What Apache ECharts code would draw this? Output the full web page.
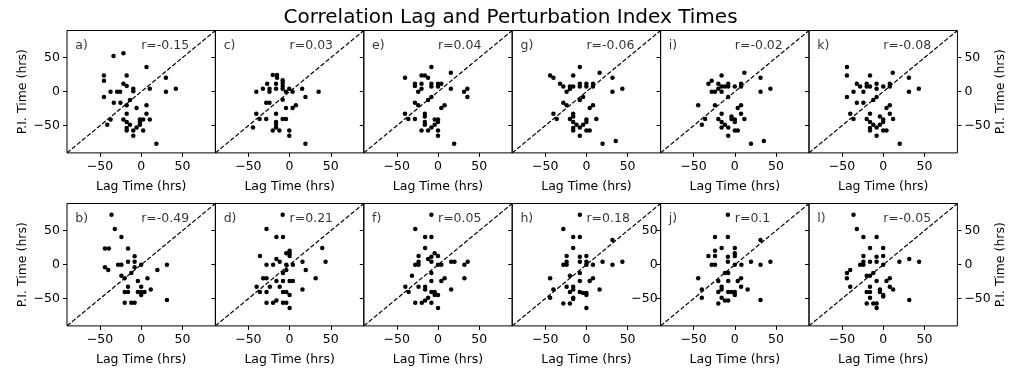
<!DOCTYPE html>
<html>
<head>
<meta charset="utf-8">
<script src="https://cdn.jsdelivr.net/npm/echarts@6/dist/echarts.min.js"></script>
<style>
html,body{margin:0;padding:0;background:#fff;}
#chart{width:1021px;height:375px;}
</style>
</head>
<body>
<div id="chart"></div>
<script>
// ---- data ----
const chartTitle = 'Correlation Lag and Perturbation Index Times';
const xAxisLabel = 'Lag Time (hrs)';
const yAxisLabel = 'P.I. Time (hrs)';
const axisMin = -90, axisMax = 90;
const tickValues = [-50, 0, 50];
const panelLetters = ['a','c','e','g','i','k','b','d','f','h','j','l'];
const rValues = ['-0.15','0.03','0.04','-0.06','-0.02','-0.08','-0.49','0.21','0.05','0.18','0.1','-0.05'];

const pointsA = [[-33.6,52.5],[-21.6,56.4],[6.4,36.3],[-45.2,24],[-45.2,16.2],[-17.6,24],[30,20.6],[-21.6,11.8],[-17.6,8.3],[-9.6,4.4],[-9.6,0.5],[10.4,4.4],[42,4.4],[30,0],[-37.2,0],[-29.2,0],[-25.6,0],[-45.2,-7.8],[-13.6,-12.3],[-33.2,-16.2],[-25.2,-16.2],[-17.6,-20.1],[-5.6,-24],[6.4,-20.1],[-17.6,-32.4],[6.4,-32.4],[-37.2,-40.7],[-21.6,-40.7],[10.4,-40.7],[-17.6,-44.6],[-41.2,-48.5],[-13.6,-48.5],[-1.6,-40.7],[-1.6,-44.6],[2.4,-40.7],[-1.6,-48.5],[-5.6,-52.5],[-17.6,-53.4],[-17.6,-56.9],[-9.6,-56.9],[2.4,-56.9],[-9.6,-64.7],[18.4,-76.5]];
const pointsC = [[-20.4,24.5],[-15.2,24.5],[-15.2,20.6],[-8.4,16.7],[-8.4,12.7],[-8.4,8.3],[-27.2,11.8],[-16.4,11.8],[-32.4,4.4],[-24.4,4.4],[-24.4,0],[-16.4,4.4],[-8.4,4.4],[-0.4,4.4],[15.2,4.4],[-40.4,0],[-4.4,0],[3.6,0],[35.2,0],[19.2,-7.8],[-8.4,-11.8],[-28.4,-16.2],[-24.4,-16.2],[7.6,-20.1],[-4.4,-24],[3.6,-24],[-40.4,-32.4],[-16.4,-32.4],[-36.4,-40.2],[-28.4,-40.2],[-8.4,-40.2],[-4.4,-40.2],[-16.4,-44.6],[-16.4,-48.5],[-44.4,-52.5],[-16.4,-52.5],[-20.4,-56.9],[-12.4,-56.9],[-0.4,-56.9],[-0.4,-64.7],[19.2,-76.5]];
const pointsE = [[-8,36.3],[15.6,27.9],[-40,20.6],[-20,24],[-16,24],[-12,20.6],[-28,11.8],[-28,8.3],[-20,11.8],[-8,11.8],[-8,7.8],[0,11.8],[4,11.8],[0,7.8],[15.6,4.4],[-24,0],[-20,4.4],[35.6,4.4],[31.6,0],[35.6,-7.8],[-8,-7.8],[-12,-12.3],[-28,-16.2],[-24,-20.1],[8,-20.1],[4,-24],[-40,-32.4],[-16,-32.4],[-16,-36.3],[-36,-40.2],[-28,-40.2],[-4,-40.7],[0,-40.7],[0,-44.6],[-16,-44.6],[-16,-48.5],[-4,-48.5],[-8,-52.5],[-20,-56.9],[-12,-56.9],[0,-56.9],[0,-64.7],[19.6,-76.5]];
const pointsG = [[-8,36.3],[16,27.9],[-44,24],[-40,20.6],[-16,24],[31.6,20.6],[-32,11.8],[-28,7.8],[-20,7.8],[-16,7.8],[-8,11.8],[-8,7.8],[0,11.8],[8,11.8],[8,7.8],[0,7.8],[-24,0],[-20,3.9],[31.6,0],[43.6,4.4],[-4,-7.8],[-8,-12.3],[-28,-16.2],[-24,-20.1],[8,-20.1],[4,-24],[-40,-32.4],[-16,-32.4],[-16,-36.3],[-36,-40.2],[-20,-40.2],[12,-40.2],[-16,-44.6],[0,-40.7],[0,-44.6],[-4,-48.5],[-12,-48.5],[-8,-52.5],[-16,-53.4],[-16,-56.9],[0,-56.9],[4,-56.9],[-8,-64.7],[19.6,-76.5],[35.6,-72.5]];
const pointsI = [[11.6,27.9],[-16,24],[31.2,20.6],[-28,16.2],[-32,11.8],[-20,11.8],[-16,7.8],[-12,7.8],[-8,11.8],[-8,7.8],[0,7.8],[7.6,11.8],[7.6,7.8],[-28,0],[-24,0],[-16,0],[-20,4.4],[31.2,0],[43.2,4.4],[-8,-7.8],[-44.4,-20.1],[-24,-20.1],[7.6,-20.1],[3.6,-24],[-16,-32.4],[7.6,-32.4],[-36,-40.2],[-20,-40.2],[11.6,-40.2],[-4,-36.3],[-4,-40.2],[0,-40.7],[0,-44.6],[-16,-44.6],[-40,-48.5],[-12,-48.5],[-16,-52.5],[-8,-52.5],[0,-56.9],[3.6,-56.9],[-8,-64.7],[19.6,-76.5],[35.2,-72.5]];
const pointsK = [[-44,36.3],[-44,24],[-16,24],[11.6,27.9],[31.2,20.6],[-32,11.8],[-28,7.8],[-20,7.8],[-16,7.8],[-20,11.8],[-8,11.8],[-8,4.4],[0,7.8],[8,11.8],[8,7.8],[-36,0],[-24,0],[31.2,0],[43.2,4.4],[-44,-7.8],[-8,-7.8],[-12,-12.3],[-32,-16.2],[-24,-16.2],[8,-20.1],[4,-24],[-40,-32.4],[-16,-32.4],[8,-32.4],[-36,-40.2],[-20,-40.2],[12,-40.2],[-4,-36.3],[0,-40.7],[0,-44.6],[-16,-44.6],[-12,-48.5],[-4,-48.5],[-8,-52.5],[-16,-53.4],[-16,-56.9],[0,-56.9],[4,-56.9],[-8,-64.7],[20,-76.5]];
const pointsB = [[-36,73.5],[-32,52.5],[-24,40.7],[-44,24],[-39.2,24],[-16,24],[-8,12.3],[-16,4.4],[-8,4.4],[-28,0],[-24,0],[-8,-3.9],[0,0],[-44,-3.9],[-40,-7.8],[19.6,-7.8],[31.2,0],[-12,-12.3],[-24,-16.2],[-20,-20.1],[7.6,-20.1],[-4,-24],[-16,-32.4],[0,-32.4],[11.6,-36.3],[-20,-40.2],[-16,-40.2],[-4,-40.2],[0,-40.2],[4,-40.2],[0,-44.6],[31.2,-52],[-20,-55.9],[-12,-55.9],[-8,-55.9]];
const pointsD = [[-8.4,73.5],[-28,52.5],[-16,40.7],[-8,40.7],[-4,16.7],[0,20.6],[0,16.7],[0,12.7],[-36,12.7],[-16,8.3],[-12,4.4],[-28,0],[-20,0],[-4,0],[4,0],[15.6,4.4],[39.6,24.5],[43.6,4.4],[19.6,-7.8],[-4,-7.8],[-8,-12.3],[-32,-20.1],[-28,-20.1],[-16,-24],[-8,-24],[0,-24],[4,-24],[31.6,-20.1],[-40,-32.4],[-24,-32.4],[-12,-32.4],[-36,-40.2],[-28,-40.2],[-8,-40.2],[-4,-40.2],[0,-44.6],[15.6,-36.3],[-16,-52.5],[-28,-55.9],[-20,-55.9],[-8,-55.9],[-4,-55.9],[0,-63.7]];
const pointsF = [[-8,73.5],[-27.6,52.5],[-15.6,40.7],[-8,40.7],[-15.6,24.5],[-4,16.7],[-8,11.8],[0,12.7],[-12,8.3],[-23.6,12.7],[-23.6,4.4],[-27.6,0],[-23.6,0],[-8,4.4],[0,0],[4,0],[16,4.4],[20,4.4],[36,4.4],[32,0],[-31.6,-16.2],[-8,-12.3],[32,-20.1],[8,-20.1],[4,-24],[-8,-24],[-39.6,-32.4],[-23.6,-32.4],[-15.6,-32.4],[-15.6,-36.3],[-35.6,-40.2],[16,-36.3],[-8,-40.2],[-4,-40.2],[-4,-44.6],[0,-44.6],[-12,-48.5],[-15.6,-52.5],[-19.6,-55.9],[-27.6,-55.9],[-8,-55.9],[0,-63.7]];
const pointsH = [[-8,73.5],[-28,52.5],[-16,40.7],[-8,40.7],[-16,24.5],[31.6,36.3],[-24,12.7],[-24,4.4],[-28,0],[-24,0],[-8,11.8],[-8,4.4],[0,12.7],[0,4.4],[0,0],[8,0],[19.6,4.4],[31.6,0],[43.6,4.4],[-8,-12.3],[-44,-20.1],[-20,-16.2],[-8,-24],[4,-24],[8,-20.1],[-40,-36.3],[-24,-32.4],[-16,-32.4],[-16,-36.3],[16,-36.3],[-20,-40.2],[-8,-40.2],[-4,-41.7],[0,-41.7],[0,-44.6],[-16,-48.5],[-44,-48.5],[-28,-56.9],[-20,-56.9],[-16,-50.5],[0,-63.7]];
const pointsJ = [[-8.4,73.5],[-24,40.7],[-8.4,40.7],[31.2,36.3],[-16,24.5],[0,24.5],[-24,20.6],[0,16.7],[0,12.7],[-32,12.7],[-24,12.7],[-8.4,11.8],[-8.4,4.4],[-28,0],[-24,0],[0,0],[8,0],[19.6,4.4],[31.2,0],[43.2,4.4],[-12,-12.3],[-8,-12.3],[-44.4,-20.1],[-20,-24],[-8,-24],[3.6,-24],[7.6,-20.1],[-40,-36.3],[-16,-32.4],[-16,-36.3],[7.6,-32.4],[15.6,-36.3],[-20,-40.2],[-8,-40.2],[-4,-40.2],[0,-40.2],[0,-44.6],[-16,-48.5],[-40,-48.5],[-12,-52.5],[-8,-52.5],[-20,-56.9],[31.2,-52]];
const pointsL = [[-36,73.5],[-32,52.5],[-24,40.7],[-8,40.7],[-16,24.5],[0,24.5],[-24,12.7],[-24,4.4],[-8,11.8],[0,12.7],[-16,4.4],[-8,4.4],[-28,0],[-24,0],[0,0],[19.6,4.4],[31.6,8.3],[43.6,4.4],[-40,-7.8],[-44,-12.3],[-44,-20.1],[-12,-12.3],[-20,-16.2],[-16,-16.2],[-8,-24],[4,-24],[8,-20.1],[-40,-32.4],[-16,-32.4],[8,-32.4],[12,-36.3],[-20,-40.2],[-16,-40.2],[-4,-36.3],[-4,-40.2],[0,-44.6],[0,-46.6],[-16,-48.5],[-20,-56.9],[-12,-56.9],[-8,-56.9],[-8,-63.7],[31.6,-52]];

const panelPoints = [pointsA,pointsC,pointsE,pointsG,pointsI,pointsK,pointsB,pointsD,pointsF,pointsH,pointsJ,pointsL];
const diagonal = [[axisMin, axisMin],[axisMax, axisMax]];
const letterPos = [-80, 67];
const rPos = [0, 67];

// ---- layout / style ----
const FONT = 'DejaVu Sans';
const FS = 12.5;
const L0 = 67, W = 148.4, H = 122.4, tops = [30.5, 203.5];
const fmt = v => String(v).replace('-', '\u2212');
const tick = {show: true, length: 4, inside: false, customValues: tickValues, lineStyle: {color: '#000', width: 1}};
const nameStyle = {fontFamily: FONT, fontSize: FS, color: '#000'};

const grids = [], xAxes = [], yAxes = [], series = [];
for (let i = 0; i < 12; i++) {
  const row = i < 6 ? 0 : 1, col = i % 6;
  grids.push({left: L0 + col * W, top: tops[row], width: W, height: H,
    show: true, borderColor: '#000', borderWidth: 1, backgroundColor: 'transparent', containLabel: false});
  xAxes.push({type: 'value', gridIndex: i, min: axisMin, max: axisMax, position: 'bottom',
    name: xAxisLabel, nameLocation: 'middle', nameGap: 27, nameTextStyle: nameStyle,
    axisLine: {show: false, onZero: false}, splitLine: {show: false}, axisTick: tick,
    axisLabel: {show: true, margin: 7, customValues: tickValues, formatter: fmt, fontFamily: FONT, fontSize: FS, color: '#000'}});
  const showLeftLabels = (col === 0) || (i === 10);
  yAxes.push({type: 'value', gridIndex: i, min: axisMin, max: axisMax, position: 'left',
    name: col === 0 ? yAxisLabel : '', nameLocation: 'middle', nameGap: 38, nameRotate: 90, nameTextStyle: nameStyle,
    axisLine: {show: false, onZero: false}, splitLine: {show: false}, axisTick: tick,
    axisLabel: {show: showLeftLabels, margin: i === 10 ? 3 : 7, customValues: tickValues, formatter: fmt, fontFamily: FONT, fontSize: FS, color: '#000'}});
}
// right-side axes for last column
[5, 11].forEach(gi => {
  yAxes.push({type: 'value', gridIndex: gi, min: axisMin, max: axisMax, position: 'right',
    name: yAxisLabel, nameLocation: 'middle', nameGap: 37, nameRotate: 90, nameTextStyle: nameStyle,
    axisLine: {show: false, onZero: false}, splitLine: {show: false}, axisTick: tick,
    axisLabel: {show: true, margin: 7, customValues: tickValues, formatter: fmt, fontFamily: FONT, fontSize: FS, color: '#000'}});
});

for (let i = 0; i < 12; i++) {
  series.push({type: 'line', xAxisIndex: i, yAxisIndex: i, data: diagonal, symbol: 'none', silent: true,
    lineStyle: {color: '#000', width: 1.2, type: [4.5, 2]}, z: 2});
  series.push({type: 'scatter', xAxisIndex: i, yAxisIndex: i, data: panelPoints[i], symbol: 'circle', symbolSize: 4.5,
    itemStyle: {color: '#000', opacity: 1}, silent: true, z: 3});
  series.push({type: 'scatter', xAxisIndex: i, yAxisIndex: i, symbolSize: 0, silent: true, z: 4,
    data: [{value: letterPos, label: {formatter: panelLetters[i] + ')'}}, {value: rPos, label: {formatter: 'r=' + rValues[i]}}],
    label: {show: true, position: [0, 0], align: 'left', verticalAlign: 'middle', fontFamily: FONT, fontSize: FS, color: '#000'}});
}

const chart = echarts.init(document.getElementById('chart'), null, {renderer: 'canvas'});
chart.setOption({
  animation: false,
  backgroundColor: '#fff',
  title: {text: chartTitle, left: 'center', top: 3, textStyle: {fontFamily: FONT, fontSize: 20, fontWeight: 'normal', color: '#000'}},
  grid: grids, xAxis: xAxes, yAxis: yAxes, series: series
});
</script>
</body>
</html>
